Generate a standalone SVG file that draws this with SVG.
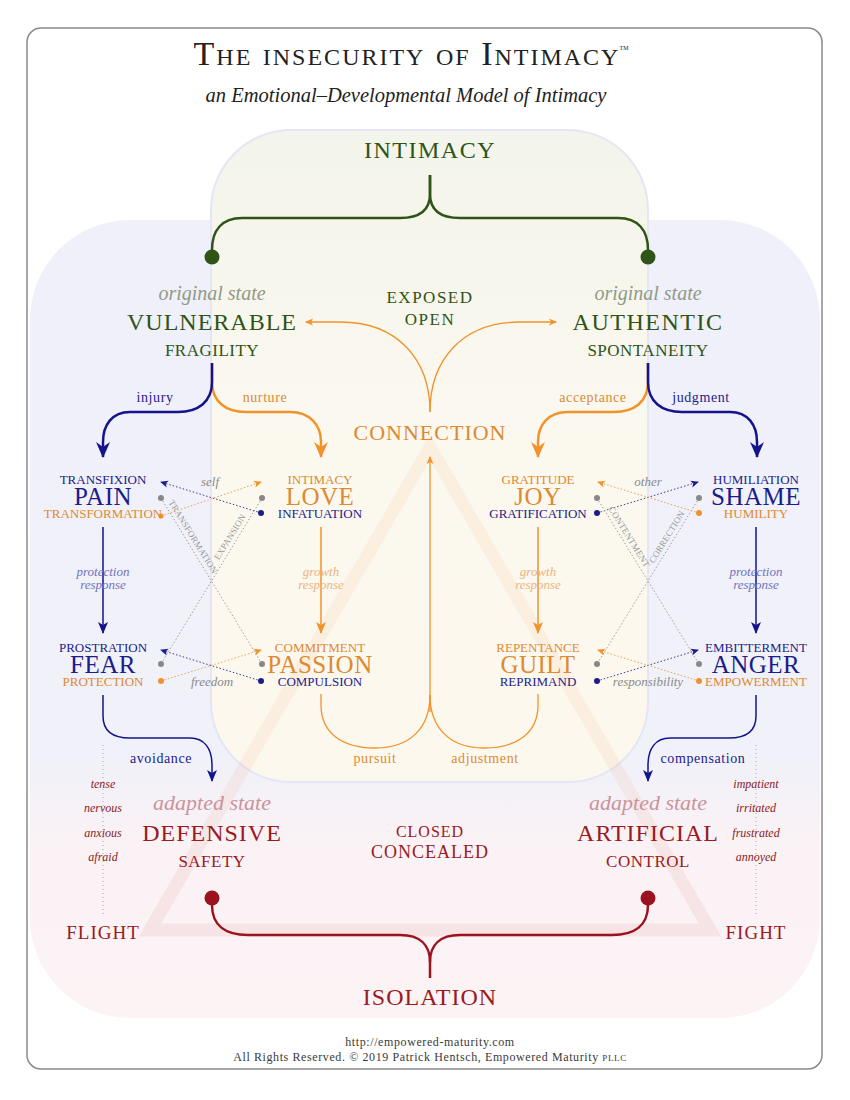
<svg xmlns="http://www.w3.org/2000/svg" width="850" height="1100" viewBox="0 0 850 1100">
<defs>
<linearGradient id="gBlue" gradientUnits="userSpaceOnUse" x1="0" y1="220" x2="0" y2="1018">
<stop offset="0" stop-color="#eff0fa"/>
<stop offset="0.68" stop-color="#f1f1f9"/>
<stop offset="0.78" stop-color="#faf2f5"/>
<stop offset="1" stop-color="#fbf3f4"/>
</linearGradient>
<linearGradient id="gCenter" gradientUnits="userSpaceOnUse" x1="0" y1="130" x2="0" y2="782">
<stop offset="0" stop-color="#f3f4eb"/>
<stop offset="0.45" stop-color="#fbf8ef"/>
<stop offset="1" stop-color="#fdf8ee"/>
</linearGradient>
<linearGradient id="gTri" gradientUnits="userSpaceOnUse" x1="0" y1="447" x2="0" y2="935">
<stop offset="0" stop-color="#f7a860"/>
<stop offset="0.6" stop-color="#eea070"/>
<stop offset="1" stop-color="#d46a6a"/>
</linearGradient>
<marker id="bigNavy" viewBox="-1 -8 18 16" refX="15" refY="0" markerWidth="18" markerHeight="16" markerUnits="userSpaceOnUse" orient="auto"><path d="M0,-7 L16,0 L0,7 L5,0Z" fill="#13138c"/></marker>
<marker id="bigOrange" viewBox="-1 -8 18 16" refX="15" refY="0" markerWidth="18" markerHeight="16" markerUnits="userSpaceOnUse" orient="auto"><path d="M0,-7 L16,0 L0,7 L5,0Z" fill="#f2922a"/></marker>
<marker id="midNavy" viewBox="-1 -6 13 12" refX="11" refY="0" markerWidth="13" markerHeight="12" markerUnits="userSpaceOnUse" orient="auto"><path d="M0,-5 L12,0 L0,5 L3,0Z" fill="#13138c"/></marker>
<marker id="midOrange" viewBox="-1 -6 13 12" refX="11" refY="0" markerWidth="13" markerHeight="12" markerUnits="userSpaceOnUse" orient="auto"><path d="M0,-5 L12,0 L0,5 L3,0Z" fill="#f2922a"/></marker>
<marker id="smNavy" viewBox="-1 -4 9 8" refX="7" refY="0" markerWidth="9" markerHeight="8" markerUnits="userSpaceOnUse" orient="auto"><path d="M0,-3.5 L8,0 L0,3.5 L2,0Z" fill="#1c1c8a"/></marker>
<marker id="smOrange" viewBox="-1 -4 9 8" refX="7" refY="0" markerWidth="9" markerHeight="8" markerUnits="userSpaceOnUse" orient="auto"><path d="M0,-3.5 L8,0 L0,3.5 L2,0Z" fill="#f2922a"/></marker>
</defs>
<style>
text{font-family:'Liberation Serif',serif;text-anchor:middle}
.it{font-style:italic}
.grn{fill:#2e5417}
.nav{fill:#1c1c8a}
.org{fill:#dd8a33}
.red{fill:#9b1a22}
.gi{fill:#8f9a86;font-style:italic;font-size:20px}
.ri{fill:#cc939a;font-style:italic;font-size:22px}
.big{font-size:24px;letter-spacing:1px}
.sub{font-size:17px;letter-spacing:0.5px}
.sm{font-size:13px}
.nm{font-size:25px;letter-spacing:0.5px}
.lab{font-size:14px;letter-spacing:0.6px}
.gl{fill:#8a8a8a;font-style:italic;font-size:13px}
.pr{fill:#6f74c0;font-style:italic;font-size:13px}
.gr{fill:#ebb47c;font-style:italic;font-size:13px}
.emo{fill:#8b1a22;font-style:italic;font-size:12px}
.rot{fill:#9a9a9a;font-size:9px;letter-spacing:0.2px}
.navyline{fill:none;stroke:#13138c}
.orgline{fill:none;stroke:#f2922a}
.dn{fill:none;stroke:#3a3a9a;stroke-width:1;stroke-dasharray:1.5 2}
.do{fill:none;stroke:#f0a050;stroke-width:1;stroke-dasharray:1.5 2}
.dg{fill:none;stroke:#a0a0a0;stroke-width:1;stroke-dasharray:1.5 2}
</style>
<rect width="850" height="1100" fill="#ffffff"/>
<rect x="27" y="28" width="795" height="1041" rx="14" fill="#ffffff" stroke="#8a8a8a" stroke-width="1.5"/>

<g id="backgrounds">
<rect x="30" y="220" width="790" height="798" rx="100" fill="url(#gBlue)"/>
<rect x="211" y="130" width="437" height="652" rx="80" fill="url(#gCenter)" stroke="#e4e6f6" stroke-width="2"/>
<path d="M430,447 L150,930 L710,930 Z" fill="none" stroke="url(#gTri)" stroke-width="13" stroke-opacity="0.11" stroke-linejoin="miter"/>
</g>

<g id="title">
<text x="407" y="65" font-size="34" font-variant="small-caps" fill="#222" letter-spacing="2">The insecurity of Intimacy</text>
<text x="624" y="50" font-size="6" fill="#222">TM</text>
<text x="406" y="102" class="it" font-size="20.5" fill="#222">an Emotional–Developmental Model of Intimacy</text>
</g>

<g id="connectors">
<path d="M430,175 L430,194 C430,210 420,218 400,218 L242,218 C222,218 212,230 212,250" fill="none" stroke="#2e5417" stroke-width="2.5"/>
<path d="M430,175 L430,194 C430,210 440,218 460,218 L618,218 C638,218 648,230 648,250" fill="none" stroke="#2e5417" stroke-width="2.5"/>
<path d="M212,898 L212,905 C212,925 225,935 248,935 L400,935 C420,935 430,945 430,962 L430,978" fill="none" stroke="#9b1320" stroke-width="2.5"/>
<path d="M648,898 L648,905 C648,925 635,935 612,935 L460,935 C440,935 430,945 430,962" fill="none" stroke="#9b1320" stroke-width="2.5"/>

<path d="M430,412 C430,360 398,322 340,322 L306,322" class="orgline" stroke-width="1.3" marker-end="url(#smOrange)"/>
<path d="M430,412 C430,360 462,322 520,322 L556,322" class="orgline" stroke-width="1.3" marker-end="url(#smOrange)"/>

<path d="M212,363 L212,382 C212,402 226,412 246,412 L290,412 C310,412 321,425 321,442 L321,457" class="orgline" stroke-width="2.5" marker-end="url(#bigOrange)"/>
<path d="M212,363 L212,382 C212,402 198,412 178,412 L130,412 C112,412 103,425 103,442 L103,457" class="navyline" stroke-width="2.5" marker-end="url(#bigNavy)"/>
<path d="M648,363 L648,382 C648,402 634,412 614,412 L568,412 C548,412 538,425 538,442 L538,457" class="orgline" stroke-width="2.5" marker-end="url(#bigOrange)"/>
<path d="M648,363 L648,382 C648,402 662,412 682,412 L730,412 C748,412 757,425 757,442 L757,457" class="navyline" stroke-width="2.5" marker-end="url(#bigNavy)"/>

<path d="M103,527 L103,633" class="navyline" stroke-width="1.5" marker-end="url(#midNavy)"/>
<path d="M321,527 L321,633" class="orgline" stroke-width="1.5" marker-end="url(#midOrange)"/>
<path d="M538,527 L538,633" class="orgline" stroke-width="1.5" marker-end="url(#midOrange)"/>
<path d="M756,527 L756,633" class="navyline" stroke-width="1.5" marker-end="url(#midNavy)"/>

<path d="M430,712 L430,457" class="orgline" stroke-width="1.3" marker-end="url(#smOrange)"/>
<path d="M321,694 L321,705 C321,733 342,748 375,748 C410,748 430,728 430,695" class="orgline" stroke-width="1.3"/>
<path d="M538,694 L538,705 C538,733 517,748 484,748 C450,748 430,728 430,695" class="orgline" stroke-width="1.3"/>

<path d="M103,695 L103,716 C103,731 112,738 130,738 L190,738 C204,738 212,748 212,765 L212,781" class="navyline" stroke-width="1.5" marker-end="url(#midNavy)"/>
<path d="M756,695 L756,716 C756,731 747,738 729,738 L670,738 C656,738 648,748 648,765 L648,781" class="navyline" stroke-width="1.5" marker-end="url(#midNavy)"/>

<path d="M103,745 L103,915" fill="none" stroke="#a8a8a8" stroke-width="1" stroke-dasharray="1 3"/>
<path d="M756,745 L756,915" fill="none" stroke="#a8a8a8" stroke-width="1" stroke-dasharray="1 3"/>

<path d="M261,513 L161,482" class="dn" marker-end="url(#smNavy)"/>
<path d="M161,516 L261,482" class="do" marker-end="url(#smOrange)"/>
<path d="M261,681 L161,650" class="dn" marker-end="url(#smNavy)"/>
<path d="M161,681 L261,650" class="do" marker-end="url(#smOrange)"/>
<path d="M161,498 L262,664" class="dg"/>
<path d="M262,498 L161,664" class="dg"/>

<path d="M597,513 L698,482" class="dn" marker-end="url(#smNavy)"/>
<path d="M699,513 L598,482" class="do" marker-end="url(#smOrange)"/>
<path d="M597,681 L698,650" class="dn" marker-end="url(#smNavy)"/>
<path d="M699,681 L598,650" class="do" marker-end="url(#smOrange)"/>
<path d="M597,498 L699,664" class="dg"/>
<path d="M699,498 L597,664" class="dg"/>

<g fill="#888">
<circle cx="161" cy="498" r="3"/><circle cx="262" cy="498" r="3"/>
<circle cx="161" cy="664" r="3"/><circle cx="262" cy="664" r="3"/>
<circle cx="597" cy="498" r="3"/><circle cx="699" cy="498" r="3"/>
<circle cx="597" cy="664" r="3"/><circle cx="699" cy="664" r="3"/>
</g>
<g fill="#1c1c8a">
<circle cx="261" cy="513" r="3"/><circle cx="261" cy="681" r="3"/>
<circle cx="597" cy="513" r="3"/><circle cx="597" cy="681" r="3"/>
</g>
<g fill="#f2922a">
<circle cx="161" cy="516" r="2.6"/><circle cx="161" cy="681" r="3"/>
<circle cx="699" cy="513" r="3"/><circle cx="699" cy="681" r="3"/>
</g>

<circle cx="212" cy="257" r="7.5" fill="#2e5417"/>
<circle cx="648" cy="257" r="7.5" fill="#2e5417"/>
<circle cx="212" cy="898" r="7.5" fill="#9b1320"/>
<circle cx="648" cy="898" r="7.5" fill="#9b1320"/>

<text class="lab nav" x="155" y="402">injury</text>
<text class="lab org" x="265" y="402">nurture</text>
<text class="lab org" x="593" y="402">acceptance</text>
<text class="lab nav" x="701" y="402">judgment</text>
<text class="lab nav" x="161" y="763">avoidance</text>
<text class="lab nav" x="703" y="763">compensation</text>
<text class="lab org" x="375" y="763">pursuit</text>
<text class="lab org" x="485" y="763">adjustment</text>
<text class="pr" x="103" y="576">protection</text>
<text class="pr" x="103" y="589">response</text>
<text class="pr" x="756" y="576">protection</text>
<text class="pr" x="756" y="589">response</text>
<text class="gr" x="321" y="576">growth</text>
<text class="gr" x="321" y="589">response</text>
<text class="gr" x="538" y="576">growth</text>
<text class="gr" x="538" y="589">response</text>
<text class="gl" x="210" y="486">self</text>
<text class="gl" x="212" y="686">freedom</text>
<text class="gl" x="648" y="486">other</text>
<text class="gl" x="648" y="686">responsibility</text>
<text class="rot" transform="translate(188,540) rotate(58.2)" y="-3">TRANSFORMATION</text>
<text class="rot" transform="translate(235,540) rotate(-58.2)" y="-3">EXPANSION</text>
<text class="rot" transform="translate(624,540) rotate(58.2)" y="-3">CONTENTMENT</text>
<text class="rot" transform="translate(672,540) rotate(-58.2)" y="-3">CORRECTION</text>
</g>

<g id="node-intimacy"><text class="grn big" x="430" y="158" style="letter-spacing:1.5px">INTIMACY</text></g>
<g id="node-vulnerable">
<text class="gi" x="212" y="300">original state</text>
<text class="grn big" x="212" y="330">VULNERABLE</text>
<text class="grn sub" x="212" y="356">FRAGILITY</text>
</g>
<g id="node-authentic">
<text class="gi" x="648" y="300">original state</text>
<text class="grn big" x="648" y="330" style="letter-spacing:1.5px">AUTHENTIC</text>
<text class="grn sub" x="648" y="356">SPONTANEITY</text>
</g>
<g id="node-exposed">
<text class="grn" x="430" y="303" font-size="17" letter-spacing="1.5">EXPOSED</text>
<text class="grn" x="430" y="325" font-size="17" letter-spacing="1.5">OPEN</text>
</g>
<g id="node-connection"><text class="org" x="430" y="440" font-size="22" letter-spacing="1">CONNECTION</text></g>

<g id="node-pain">
<text class="nav sm" x="103" y="484">TRANSFIXION</text>
<text class="nav nm" x="103" y="505">PAIN</text>
<text class="org sm" x="103" y="518">TRANSFORMATION</text>
</g>
<g id="node-love">
<text class="org sm" x="320" y="484">INTIMACY</text>
<text class="org nm" x="320" y="505">LOVE</text>
<text class="nav sm" x="320" y="518">INFATUATION</text>
</g>
<g id="node-joy">
<text class="org sm" x="538" y="484">GRATITUDE</text>
<text class="org nm" x="538" y="505">JOY</text>
<text class="nav sm" x="538" y="518">GRATIFICATION</text>
</g>
<g id="node-shame">
<text class="nav sm" x="756" y="484">HUMILIATION</text>
<text class="nav nm" x="756" y="505">SHAME</text>
<text class="org sm" x="756" y="518">HUMILITY</text>
</g>
<g id="node-fear">
<text class="nav sm" x="103" y="652">PROSTRATION</text>
<text class="nav nm" x="103" y="673">FEAR</text>
<text class="org sm" x="103" y="686">PROTECTION</text>
</g>
<g id="node-passion">
<text class="org sm" x="320" y="652">COMMITMENT</text>
<text class="org nm" x="320" y="673">PASSION</text>
<text class="nav sm" x="320" y="686">COMPULSION</text>
</g>
<g id="node-guilt">
<text class="org sm" x="538" y="652">REPENTANCE</text>
<text class="org nm" x="538" y="673">GUILT</text>
<text class="nav sm" x="538" y="686">REPRIMAND</text>
</g>
<g id="node-anger">
<text class="nav sm" x="756" y="652">EMBITTERMENT</text>
<text class="nav nm" x="756" y="673">ANGER</text>
<text class="org sm" x="756" y="686">EMPOWERMENT</text>
</g>

<g id="node-flight-words">
<text class="emo" x="103" y="788">tense</text>
<text class="emo" x="103" y="812">nervous</text>
<text class="emo" x="103" y="837">anxious</text>
<text class="emo" x="103" y="861">afraid</text>
</g>
<g id="node-fight-words">
<text class="emo" x="756" y="788">impatient</text>
<text class="emo" x="756" y="812">irritated</text>
<text class="emo" x="756" y="837">frustrated</text>
<text class="emo" x="756" y="861">annoyed</text>
</g>
<g id="node-defensive">
<text class="ri" x="212" y="810">adapted state</text>
<text class="red big" x="212" y="841">DEFENSIVE</text>
<text class="red sub" x="212" y="867">SAFETY</text>
</g>
<g id="node-artificial">
<text class="ri" x="648" y="810">adapted state</text>
<text class="red big" x="648" y="841">ARTIFICIAL</text>
<text class="red sub" x="648" y="867">CONTROL</text>
</g>
<g id="node-closed">
<text class="red" x="430" y="837" font-size="16" letter-spacing="1">CLOSED</text>
<text class="red" x="430" y="858" font-size="18" letter-spacing="1">CONCEALED</text>
</g>
<g id="node-flight"><text class="red" x="103" y="939" font-size="19" letter-spacing="1">FLIGHT</text></g>
<g id="node-fight"><text class="red" x="756" y="939" font-size="19" letter-spacing="1">FIGHT</text></g>
<g id="node-isolation"><text class="red" x="430" y="1005" font-size="24" letter-spacing="1">ISOLATION</text></g>

<g id="footer">
<text x="430" y="1046" font-size="12" fill="#3a3a3a" letter-spacing="0.6">http://empowered-maturity.com</text>
<text x="430" y="1061" font-size="12" fill="#3a3a3a" letter-spacing="0.6">All Rights Reserved. © 2019 Patrick Hentsch, Empowered Maturity <tspan font-size="9">PLLC</tspan></text>
</g>
</svg>
